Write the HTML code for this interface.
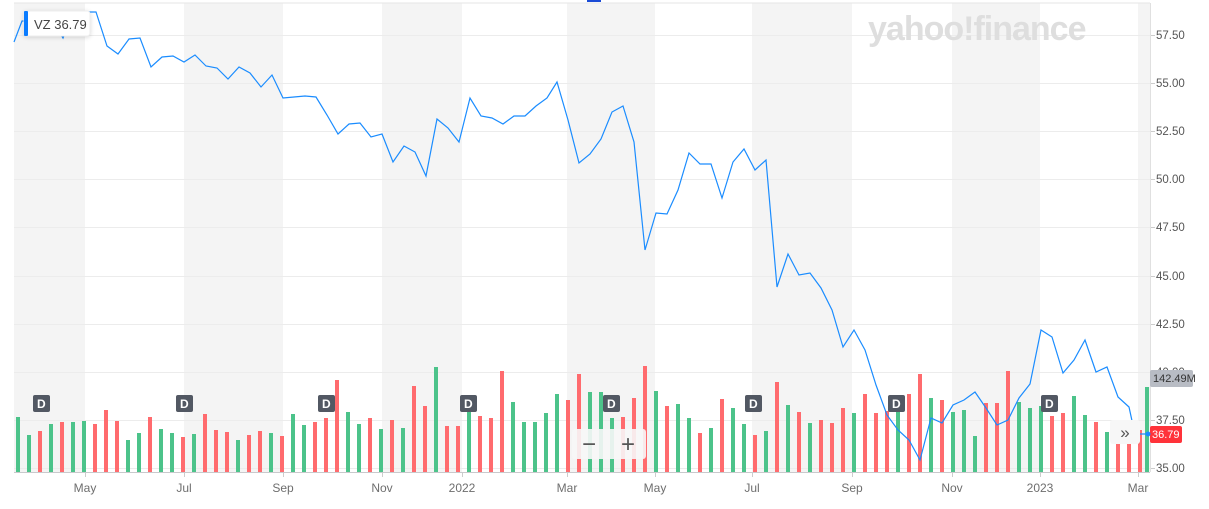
<!DOCTYPE html><html><head><style>
body{margin:0;background:#fff;font-family:"Liberation Sans",sans-serif;}
</style></head><body>
<svg id="s" width="1209" height="509" xmlns="http://www.w3.org/2000/svg" style="display:block">
<rect width="1209" height="509" fill="#fff"/>
<g fill="#f4f4f4">
<rect x="14" y="3" width="71" height="469"/><rect x="184" y="3" width="99" height="469"/>
<rect x="382" y="3" width="80" height="469"/><rect x="567" y="3" width="88" height="469"/>
<rect x="752" y="3" width="100" height="469"/><rect x="952" y="3" width="88" height="469"/>
<rect x="1138" y="3" width="12" height="469"/>
</g>
<line x1="14" y1="3" x2="1150" y2="3" stroke="#e6e6e6"/>
<g stroke="#ececec" stroke-width="1" id="grid"></g>
<g id="bars"></g>
<polyline id="pl" fill="none" stroke="#1a8cff" stroke-width="1.2"/>
<line x1="14" y1="472.5" x2="1150" y2="472.5" stroke="#c9c9cc"/>
<line x1="1150.5" y1="3" x2="1150.5" y2="472" stroke="#e0e0e0"/>
<g font-size="12" fill="#6e6e6e" text-anchor="middle" id="xl"></g>
<g font-size="11.5" fill="#555" id="yl"></g>
<text x="868" y="40" font-size="34" font-weight="bold" fill="#dedede" letter-spacing="-1">yahoo!finance</text>
<rect x="24" y="11" width="66" height="25" rx="3" fill="#fff" stroke="#eee" style="filter:drop-shadow(0 1px 2px rgba(0,0,0,.15))"/>
<rect x="24" y="11" width="4" height="25" rx="1" fill="#0a7cff"/>
<text x="34" y="29" font-size="13" fill="#444">VZ  36.79</text>
<g font-size="12" font-weight="bold" fill="#fff" id="ds"></g>
<rect x="572" y="429" width="74" height="30" rx="3" fill="#f7f7f7" opacity=".9"/>
<text x="589" y="452" font-size="24" fill="#555" text-anchor="middle">−</text>
<text x="628" y="452" font-size="24" fill="#555" text-anchor="middle">+</text>
<rect x="1110" y="420" width="30" height="24" rx="3" fill="#f7f7f7"/>
<text x="1125" y="438" font-size="17" fill="#555" text-anchor="middle">»</text>
<rect x="1150" y="370" width="43" height="17" rx="2" fill="#b8bcc4"/>
<text x="1153" y="382" font-size="11" fill="#333">142.49M</text>
<rect x="1150" y="426" width="32" height="17" rx="2" fill="#ff333a"/>
<text x="1152" y="438" font-size="11" fill="#fff">36.79</text>
<circle cx="1148" cy="434" r="2.5" fill="#1a8cff"/>
<rect x="587" y="0" width="14" height="2" fill="#1a4bd6"/>
</svg>
<script>
const N="http://www.w3.org/2000/svg";
function el(t,a,p,txt){const e=document.createElementNS(N,t);for(const k in a)e.setAttribute(k,a[k]);if(txt)e.textContent=txt;document.getElementById(p).appendChild(e);}
const ys=[["57.50",35],["55.00",83],["52.50",131],["50.00",179],["47.50",227],["45.00",276],["42.50",324],["40.00",372],["37.50",420],["35.00",468]];
ys.forEach(([t,y])=>{el("line",{x1:14,x2:1150,y1:y+.5,y2:y+.5},"grid");el("line",{x1:1150,x2:1155,y1:y+.5,y2:y+.5,stroke:"#ccc"},"grid");el("text",{x:1156,y:y+4},"yl",t);});
[["May",85],["Jul",184],["Sep",283],["Nov",382],["2022",462],["Mar",567],["May",655],["Jul",752],["Sep",852],["Nov",952],["2023",1040],["Mar",1138]].forEach(([t,x])=>{el("text",{x:x,y:492},"xl",t);el("line",{x1:x+.5,x2:x+.5,y1:472,y2:477,stroke:"#ccc"},"grid");});
const b="417g435g431r424g422r422g421g424r410r421r440g433g417r429g433g437r434g414r430r432r440g435r431r433g436r414g425g422r418r380r412g424g418r429g420r428g386r406r367g426r426r410g416r418r371r402g422g422g413g394g400r374r392g392g418g417r398r366r391g406r404g418g433r428g399r408g424g435r431g382r405g412r423g420r423r408r413g394r413r411r396g394r374r398g400r412g410g436g403r403r371r402g408g406g416r413r396g415g422r432g441r441r430r".match(/\d+[gr]/g);
b.forEach((v,i)=>{const y=parseInt(v),c=v.slice(-1)=="g"?"#4cc38a":"#ff6b6e";el("rect",{x:16+i*11,y:y,width:4,height:472-y,fill:c},"bars");});
el("rect",{x:1145,y:387,width:4,height:85,fill:"#4cc38a"},"bars");
const p="14,42 22,21 30,21 40,20 52,20 63,38 73,12 86,12 96,12 107,46 118,54 129,39 140,38 151,67 162,57 173,56 184,62 195,55 206,66 217,68 228,79 239,67 250,73 261,87 272,75 283,98 294,97 305,96 316,97 327,115 338,134 349,124 360,123 371,137 382,134 393,162 404,146 415,152 426,176 437,119 448,128 459,142 470,98 481,116 492,118 503,124 514,116 525,116 536,106 547,98 557,82 568,120 579,163 590,154 601,139 612,112 623,106 634,142 645,250 656,213 667,214 678,190 689,153 700,164 711,164 722,198 733,162 744,149 755,170 766,160 777,287 788,254 799,275 810,273 821,288 832,310 843,347 854,330 865,350 876,385 887,415 898,430 909,440 920,460 931,418 942,423 953,405 964,400 975,392 986,408 997,425 1008,420 1019,398 1030,384 1041,330 1052,337 1063,373 1074,360 1085,340 1096,372 1107,367 1118,397 1129,407 1134,430 1140,434 1148,434";
document.getElementById("pl").setAttribute("points",p);
[41,184,326,468,611,753,896,1049].forEach(x=>{el("rect",{x:x-8,y:395,width:17,height:17,rx:2,fill:"#525863"},"ds");el("text",{x:x-4,y:408},"ds","D");});
</script>
</body></html>
